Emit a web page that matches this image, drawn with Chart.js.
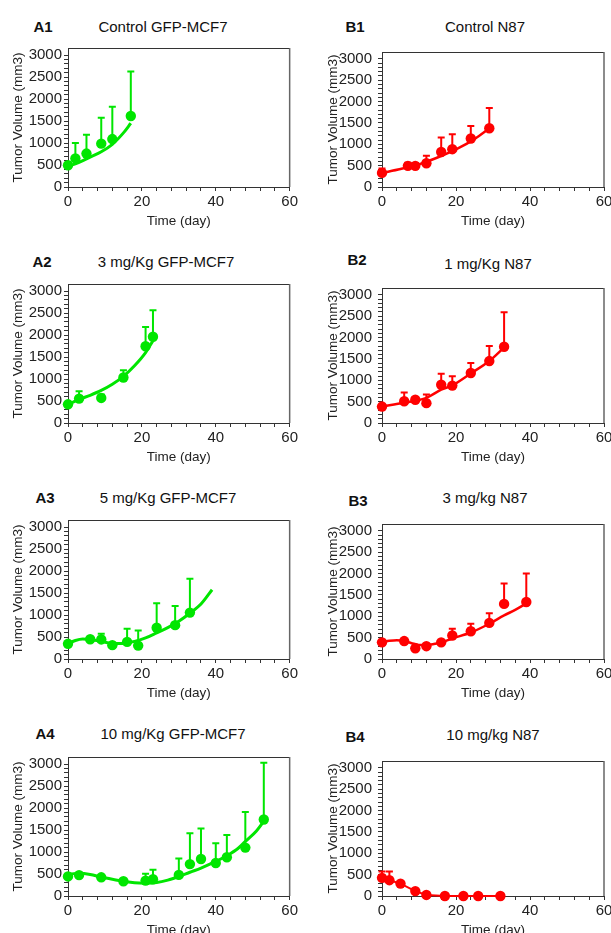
<!DOCTYPE html>
<html>
<head>
<meta charset="utf-8">
<script src="https://cdn.jsdelivr.net/npm/chart.js@4.4.0/dist/chart.umd.min.js"></script>
<style>
    body { margin: 0; width: 611px; height: 933px; overflow: hidden; background: #fff; position: relative; font-family: "Liberation Sans", Arial, sans-serif; }
    canvas { position: absolute; }
    .lbl { position: absolute; transform: translate(-50%, -50%); white-space: nowrap; font-size: 15px; color: #111; }
    .lbl.b { font-weight: bold; }
</style>
</head>
<body>
<script>
/* tick labels */
const xLabels = [0, 20, 40, 60];
const yLabels = [0, 500, 1000, 1500, 2000, 2500, 3000];

/* A1 control GFP-MCF7 */
const a1Days = [0, 2, 5, 9, 12, 17];
const a1Vals = [495, 650, 760, 985, 1090, 1615];
const a1Err  = [0, 350, 430, 590, 735, 1010];
const a1Fit  = [[0, 470], [3, 560], [6, 680], [9, 800], [12, 970], [15, 1230], [17, 1450]];

/* B1 control N87 */
const b1Days = [0, 7, 9, 12, 16, 19, 24, 29];
const b1Vals = [330, 495, 495, 555, 820, 885, 1135, 1375];
const b1Err  = [105, 75, 60, 175, 340, 350, 295, 475];
const b1Fit  = [[0, 330], [5, 420], [10, 530], [15, 690], [20, 880], [25, 1120], [29, 1370]];

/* A2 3 mg/Kg GFP-MCF7 */
const a2Days = [0, 3, 9, 15, 21, 23];
const a2Vals = [425, 555, 570, 1035, 1745, 1960];
const a2Err  = [0, 165, 80, 165, 435, 605];
const a2Fit  = [[0, 420], [3, 535], [6, 630], [9, 740], [12, 880], [15, 1060], [18, 1300], [21, 1600], [23, 1870]];

/* B2 1 mg/Kg N87 */
const b2Days = [0, 6, 9, 12, 16, 19, 24, 29, 33];
const b2Vals = [385, 510, 545, 465, 895, 875, 1170, 1450, 1785];
const b2Err  = [0, 205, 60, 205, 260, 220, 235, 355, 805];
const b2Fit  = [[0, 390], [6, 475], [12, 590], [16, 780], [19, 880], [24, 1160], [29, 1450], [33, 1770]];

/* A3 5 mg/Kg GFP-MCF7 */
const a3Days = [0, 6, 9, 12, 16, 19, 24, 29, 33];
const a3Vals = [345, 450, 445, 315, 390, 305, 710, 770, 1055];
const a3Err  = [0, 0, 130, 0, 300, 345, 560, 435, 770];
const a3Fit  = [[0, 345], [2, 420], [4, 455], [6, 445], [9, 405], [12, 350], [15, 355], [18, 400], [21, 480], [24, 595], [27, 715], [30, 860], [33, 1040], [36, 1250], [39, 1575]];

/* B3 3 mg/kg N87 */
const b3Days = [0, 6, 9, 12, 16, 19, 24, 29, 33, 39];
const b3Vals = [390, 420, 250, 300, 390, 550, 650, 845, 1290, 1335];
const b3Err  = [0, 0, 0, 0, 0, 160, 175, 225, 480, 665];
const b3Fit  = [[0, 395], [2, 425], [4, 440], [6, 420], [8, 370], [10, 330], [12, 330], [14, 350], [16, 385], [19, 480], [24, 620], [29, 825], [33, 1020], [36, 1150], [39, 1300]];

/* A4 10 mg/Kg GFP-MCF7 */
const a4Days = [0, 3, 9, 15, 21, 23, 30, 33, 36, 40, 43, 48, 53];
const a4Vals = [445, 475, 425, 335, 350, 380, 480, 725, 840, 750, 880, 1100, 1740];
const a4Err  = [0, 0, 0, 0, 155, 215, 375, 700, 695, 450, 505, 810, 1290];
const a4Fit  = [[0, 495], [3, 515], [6, 490], [9, 430], [12, 380], [15, 335], [18, 300], [21, 292], [24, 305], [27, 360], [30, 443], [33, 540], [36, 635], [40, 785], [43, 915], [46, 1080], [48, 1240], [51, 1480], [53, 1700]];

/* B4 10 mg/kg N87 */
const b4Days = [0, 2, 5, 9, 12, 17, 22, 26, 32];
const b4Vals = [425, 370, 290, 115, 25, 0, 0, 0, 0];
const b4Err  = [150, 205, 0, 0, 0, 0, 0, 0, 0];

const GREEN = '#00e600';
const RED = '#ff0000';

const cols = [
    { left: 0, width: 300, right: 10, yw: 68, tp: 2, tt: 10 },
    { left: 305, width: 320, right: 21, yw: 77, tp: 6, tt: 20 }
];
const rowTops = [47, 283, 519, 756];

const panels = [
    { tag: 'A1', title: 'Control GFP-MCF7', col: 0, row: 0, color: GREEN, days: a1Days, vals: a1Vals, err: a1Err, fit: a1Fit, tagPos: [43, 26], titlePos: [163, 26] },
    { tag: 'B1', title: 'Control N87', col: 1, row: 0, color: RED, days: b1Days, vals: b1Vals, err: b1Err, fit: b1Fit, tagPos: [355, 26], titlePos: [485, 26] },
    { tag: 'A2', title: '3 mg/Kg GFP-MCF7', col: 0, row: 1, color: GREEN, days: a2Days, vals: a2Vals, err: a2Err, fit: a2Fit, tagPos: [42, 261], titlePos: [166, 261] },
    { tag: 'B2', title: '1 mg/Kg N87', col: 1, row: 1, color: RED, days: b2Days, vals: b2Vals, err: b2Err, fit: b2Fit, tagPos: [357, 259], titlePos: [488, 263] },
    { tag: 'A3', title: '5 mg/Kg GFP-MCF7', col: 0, row: 2, color: GREEN, days: a3Days, vals: a3Vals, err: a3Err, fit: a3Fit, tagPos: [45, 497], titlePos: [168, 497] },
    { tag: 'B3', title: '3 mg/kg N87', col: 1, row: 2, color: RED, days: b3Days, vals: b3Vals, err: b3Err, fit: b3Fit, tagPos: [358, 500], titlePos: [485, 497] },
    { tag: 'A4', title: '10 mg/Kg GFP-MCF7', col: 0, row: 3, color: GREEN, days: a4Days, vals: a4Vals, err: a4Err, fit: a4Fit, tagPos: [45, 733], titlePos: [173, 733] },
    { tag: 'B4', title: '10 mg/kg N87', col: 1, row: 3, color: RED, days: b4Days, vals: b4Vals, err: b4Err, fit: null, tagPos: [355, 736], titlePos: [493, 734] }
];

/* upward error bars with a cap, drawn under the markers */
const errorBars = {
    id: 'errorBars',
    beforeDatasetsDraw(chart) {
        const ctx = chart.ctx;
        const xs = chart.scales.x, ys = chart.scales.y;
        chart.data.datasets.forEach(ds => {
            if (!ds.errorBars) return;
            ctx.save();
            ctx.strokeStyle = ds.backgroundColor;
            ctx.lineWidth = 2;
            ds.data.forEach((p, i) => {
                const e = ds.errorBars[i];
                if (!e) return;
                const x = xs.getPixelForValue(p.x);
                const y0 = ys.getPixelForValue(p.y);
                const y1 = ys.getPixelForValue(p.y + e);
                ctx.beginPath();
                ctx.moveTo(x, y0);
                ctx.lineTo(x, y1);
                ctx.moveTo(x - 3.5, y1);
                ctx.lineTo(x + 3.5, y1);
                ctx.stroke();
            });
            ctx.restore();
        });
    }
};

/* top and right side of the box */
const frame = {
    id: 'frame',
    afterDraw(chart) {
        const { ctx, chartArea: a } = chart;
        ctx.save();
        ctx.strokeStyle = '#333';
        ctx.lineWidth = 1;
        ctx.beginPath();
        ctx.moveTo(a.left, a.top + 0.5);
        ctx.lineTo(a.right, a.top + 0.5);
        ctx.stroke();
        ctx.strokeStyle = '#666';
        ctx.lineWidth = 1.5;
        ctx.beginPath();
        ctx.moveTo(a.right, a.top);
        ctx.lineTo(a.right, a.bottom);
        ctx.stroke();
        ctx.restore();
    }
};

function addText(txt, pos, bold) {
    const d = document.createElement('div');
    d.className = bold ? 'lbl b' : 'lbl';
    d.textContent = txt;
    d.style.left = pos[0] + 'px';
    d.style.top = pos[1] + 'px';
    document.body.appendChild(d);
}

Chart.defaults.font.family = '"Liberation Sans", Arial, sans-serif';
Chart.defaults.color = '#222';

panels.forEach(p => {
    const c = cols[p.col];
    const cv = document.createElement('canvas');
    cv.width = c.width;
    cv.height = 192;
    cv.style.left = c.left + 'px';
    cv.style.top = (rowTops[p.row] - 10) + 'px';
    document.body.appendChild(cv);

    addText(p.tag, p.tagPos, true);
    addText(p.title, p.titlePos, false);

    const pts = p.days.map((d, i) => ({ x: d, y: p.vals[i] }));
    const datasets = [{
        data: pts,
        errorBars: p.err,
        showLine: !p.fit,
        borderColor: p.color,
        borderWidth: 2,
        backgroundColor: p.color,
        pointRadius: 5.2,
        pointBorderWidth: 0,
        clip: false
    }];
    if (p.fit) {
        datasets.push({
            data: p.fit.map(q => ({ x: q[0], y: q[1] })),
            showLine: true,
            borderColor: p.color,
            borderWidth: p.col === 0 ? 3 : 2.5,
            pointRadius: 0,
            cubicInterpolationMode: 'monotone',
            clip: false
        });
    }

    new Chart(cv.getContext('2d'), {
        type: 'scatter',
        data: { datasets },
        plugins: [errorBars, frame],
        options: {
            responsive: false,
            animation: false,
            layout: { padding: { left: 0, top: 10, right: c.right, bottom: 0 } },
            plugins: { legend: { display: false }, tooltip: { enabled: false } },
            scales: {
                x: {
                    type: 'linear', min: 0, max: 60,
                    afterBuildTicks: s => {
                        const t = [];
                        for (let v = 0; v <= 60; v += 4) t.push({ value: v });
                        s.ticks = t;
                    },
                    afterFit: s => { s.height = 42; },
                    ticks: {
                        autoSkip: false, maxRotation: 0, padding: 2,
                        font: { size: 15 }, color: '#222',
                        callback: v => xLabels.includes(v) ? String(v) : ''
                    },
                    grid: { drawOnChartArea: false, tickLength: 4, color: '#333' },
                    border: { color: '#333', width: 1 },
                    title: { display: true, text: 'Time (day)', font: { size: 13.5 }, color: '#222', padding: 0 }
                },
                y: {
                    type: 'linear', min: 0, max: 3160,
                    afterBuildTicks: s => {
                        const t = [];
                        for (let v = 0; v <= 3000; v += 100) t.push({ value: v });
                        s.ticks = t;
                    },
                    afterFit: s => { s.width = c.yw; },
                    ticks: {
                        autoSkip: false, padding: c.tp,
                        font: { size: 15 }, color: '#222',
                        callback: v => yLabels.includes(v) ? String(v) : ''
                    },
                    grid: { drawOnChartArea: false, tickLength: 4, color: '#333' },
                    border: { color: '#333', width: 1 },
                    title: { display: true, text: 'Tumor Volume (mm3)', font: { size: 13.5 }, color: '#222', padding: { top: c.tt, bottom: 0 } }
                }
            }
        }
    });
});
</script>
</body>
</html>
